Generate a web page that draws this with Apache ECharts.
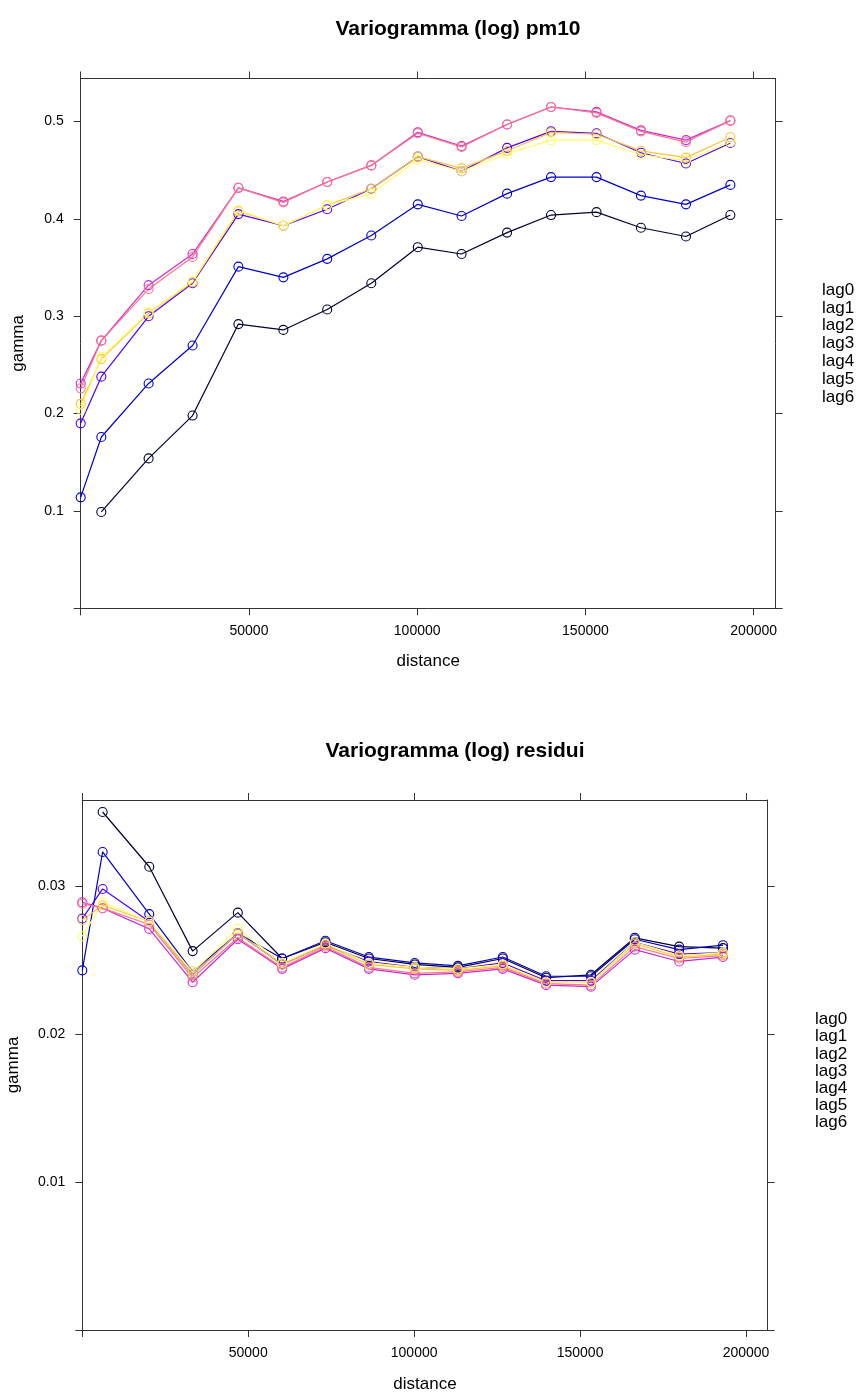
<!DOCTYPE html>
<html>
<head>
<meta charset="utf-8">
<script src="https://cdn.jsdelivr.net/npm/echarts@6/dist/echarts.min.js"></script>
<style>
html,body{margin:0;padding:0;background:#fff;}
#c{width:862px;height:1394px;}
</style>
</head>
<body>
<div id="c"></div>
<script>
// ---- data ----
const lagNames = ['lag0','lag1','lag2','lag3','lag4','lag5','lag6'];
const lagColors = ['#000033','#0000CC','#5000FF','#C729D6','#FF758A','#FFC23D','#FFFF60'];
const distances = [0, 6130, 20180, 33250, 46870, 60230, 73260, 86360, 100170, 113190, 126710, 139770, 153290, 166490, 179870, 193070];

// top panel: Variogramma (log) pm10
const pm10_lag0 = [null, 0.099, 0.154, 0.198, 0.292, 0.286, 0.307, 0.334, 0.371, 0.364, 0.386, 0.404, 0.407, 0.391, 0.382, 0.404];
const pm10_lag1 = [0.114, 0.176, 0.231, 0.270, 0.351, 0.340, 0.359, 0.383, 0.415, 0.403, 0.426, 0.443, 0.443, 0.424, 0.415, 0.435];
const pm10_lag2 = [0.190, 0.238, 0.300, 0.334, 0.405, 0.393, 0.410, 0.431, 0.464, 0.449, 0.473, 0.490, 0.488, 0.468, 0.457, 0.478];
const pm10_lag3 = [0.231, 0.275, 0.332, 0.364, 0.432, 0.418, 0.438, 0.455, 0.489, 0.475, 0.497, 0.515, 0.510, 0.491, 0.481, 0.501];
const pm10_lag4 = [0.226, 0.275, 0.328, 0.361, 0.432, 0.417, 0.438, 0.455, 0.488, 0.474, 0.497, 0.515, 0.509, 0.490, 0.479, 0.501];
const pm10_lag5 = [0.210, 0.256, 0.303, 0.335, 0.408, 0.393, 0.414, 0.431, 0.464, 0.452, 0.470, 0.489, 0.487, 0.470, 0.463, 0.484];
const pm10_lag6 = [0.204, 0.258, 0.304, 0.336, 0.409, 0.393, 0.414, 0.426, 0.461, 0.449, 0.467, 0.481, 0.481, 0.466, 0.460, 0.479];

// bottom panel: Variogramma (log) residui
const res_lag0 = [null, 0.0350, 0.0313, 0.0256, 0.0282, 0.0251, 0.0262, 0.0251, 0.0247, 0.0245, 0.0251, 0.0238, 0.0240, 0.0265, 0.0259, 0.0258];
const res_lag1 = [0.0243, 0.0323, 0.0281, 0.0242, 0.0268, 0.0251, 0.0263, 0.0252, 0.0248, 0.0246, 0.0252, 0.0239, 0.0239, 0.0264, 0.0257, 0.0260];
const res_lag2 = [0.0278, 0.0298, 0.0276, 0.0240, 0.0268, 0.0247, 0.0260, 0.0249, 0.0245, 0.0244, 0.0248, 0.0236, 0.0236, 0.0262, 0.0254, 0.0255];
const res_lag3 = [0.0289, 0.0285, 0.0271, 0.0235, 0.0264, 0.0244, 0.0258, 0.0244, 0.0240, 0.0241, 0.0244, 0.0233, 0.0232, 0.0257, 0.0249, 0.0252];
const res_lag4 = [0.0288, 0.0285, 0.0274, 0.0238, 0.0265, 0.0245, 0.0259, 0.0245, 0.0241, 0.0242, 0.0245, 0.0234, 0.0233, 0.0259, 0.0251, 0.0253];
const res_lag5 = [0.0277, 0.0287, 0.0276, 0.0240, 0.0268, 0.0247, 0.0260, 0.0247, 0.0244, 0.0243, 0.0246, 0.0235, 0.0235, 0.0261, 0.0252, 0.0254];
const res_lag6 = [0.0266, 0.0289, 0.0276, 0.0242, 0.0271, 0.0248, 0.0261, 0.0248, 0.0245, 0.0244, 0.0247, 0.0235, 0.0235, 0.0262, 0.0253, 0.0255];

const xTicks = [0, 50000, 100000, 150000, 200000];
const xTickLabels = [50000, 100000, 150000, 200000];
const topYTicks = [0, 0.1, 0.2, 0.3, 0.4, 0.5];
const topYLabels = [0.1, 0.2, 0.3, 0.4, 0.5];
const botYTicks = [0, 0.01, 0.02, 0.03];
const botYLabels = [0.01, 0.02, 0.03];

const topSeries = [pm10_lag0, pm10_lag1, pm10_lag2, pm10_lag3, pm10_lag4, pm10_lag5, pm10_lag6];
const botSeries = [res_lag0, res_lag1, res_lag2, res_lag3, res_lag4, res_lag5, res_lag6];

// ---- chart ----
const FONT = '"Liberation Sans", Arial, Helvetica, sans-serif';
const AX = '#333';
const X_MAX = 206540;

function pairs(vals){
  const out = [];
  vals.forEach((v,i)=>{ if (v !== null) out.push([distances[i], v]); });
  return out;
}

function xAxes(gridIndex, nameGap){
  return [
    {type:'value', gridIndex, position:'bottom', min:0, max:X_MAX,
     name:'distance', nameLocation:'middle', nameGap,
     nameTextStyle:{fontFamily:FONT, fontSize:17, color:'#000'},
     axisLine:{show:true, onZero:false, lineStyle:{color:AX, width:1}},
     axisTick:{show:true, length:7, customValues:xTicks, lineStyle:{color:AX}},
     axisLabel:{show:true, margin:16, customValues:xTickLabels, fontFamily:FONT, fontSize:14, color:'#000', formatter: v => String(v)},
     splitLine:{show:false}},
    {type:'value', gridIndex, position:'top', min:0, max:X_MAX,
     axisLine:{show:true, onZero:false, lineStyle:{color:AX, width:1}},
     axisTick:{show:true, length:7, customValues:xTicks, lineStyle:{color:AX}},
     axisLabel:{show:false}, splitLine:{show:false}}
  ];
}
function yAxes(gridIndex, min, max, ticks, labels, nameGap){
  return [
    {type:'value', gridIndex, position:'left', min, max,
     name:'gamma', nameLocation:'middle', nameGap, nameRotate:90,
     nameTextStyle:{fontFamily:FONT, fontSize:17, color:'#000'},
     axisLine:{show:true, onZero:false, lineStyle:{color:AX, width:1}},
     axisTick:{show:true, length:7, customValues:ticks, lineStyle:{color:AX}},
     axisLabel:{show:true, margin:17, customValues:labels, fontFamily:FONT, fontSize:14, color:'#000', formatter: v => String(+v.toFixed(4))},
     splitLine:{show:false}},
    {type:'value', gridIndex, position:'right', min, max,
     axisLine:{show:true, onZero:false, lineStyle:{color:AX, width:1}},
     axisTick:{show:true, length:7, customValues:ticks, lineStyle:{color:AX}},
     axisLabel:{show:false}, splitLine:{show:false}}
  ];
}

function mkSeries(list, xi, yi){
  return list.map((vals, k) => ({
    type:'line', name:lagNames[k], xAxisIndex:xi, yAxisIndex:yi,
    data: pairs(vals),
    symbol:'circle', symbolSize:9,
    itemStyle:{color:'rgba(0,0,0,0)', borderColor:lagColors[k], borderWidth:1.1},
    lineStyle:{color:lagColors[k], width:1.2},
    emphasis:{disabled:true}, silent:true, animation:false
  }));
}

const chart = echarts.init(document.getElementById('c'), null, {renderer:'canvas'});
chart.setOption({
  animation:false,
  backgroundColor:'#fff',
  title:[
    {text:'Variogramma (log) pm10', left:453, top:14, textAlign:'center',
     textStyle:{fontFamily:FONT, fontSize:21, fontWeight:'bold', color:'#000'}},
    {text:'Variogramma (log) residui', left:450, top:736, textAlign:'center',
     textStyle:{fontFamily:FONT, fontSize:21, fontWeight:'bold', color:'#000'}}
  ],
  legend:[
    {data:lagNames, left:817, top:281, orient:'vertical', icon:'none', itemWidth:0, itemHeight:0, itemGap:0,
     selectedMode:false, padding:0, textStyle:{fontFamily:FONT, fontSize:17, color:'#000', lineHeight:17.9, padding:0}},
    {data:lagNames, left:810, top:1011, orient:'vertical', icon:'none', itemWidth:0, itemHeight:0, itemGap:0,
     selectedMode:false, padding:0, textStyle:{fontFamily:FONT, fontSize:17, color:'#000', lineHeight:17.2, padding:0}}
  ],
  grid:[
    {left:80.7, top:78.5, width:695, height:529.8, containLabel:false, outerBoundsMode:'none'},
    {left:82.3, top:800, width:685.4, height:530, containLabel:false, outerBoundsMode:'none'}
  ],
  xAxis:[...xAxes(0, 45), ...xAxes(1, 46)],
  yAxis:[...yAxes(0, 0, 0.5443, topYTicks, topYLabels, 54), ...yAxes(1, 0, 0.03581, botYTicks, botYLabels, 60)],
  series:[...mkSeries(topSeries, 0, 0), ...mkSeries(botSeries, 2, 2)]
});
</script>
</body>
</html>
